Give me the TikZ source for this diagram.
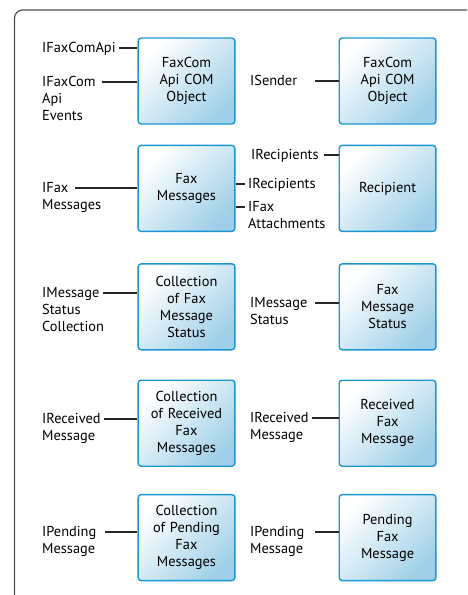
\documentclass[tikz,border=0pt]{standalone}
\usepackage{fontspec}
\setmainfont{PT Sans}
\usetikzlibrary{positioning}

\definecolor{boxblue}{RGB}{27,150,212}
\definecolor{boxfill}{RGB}{160,208,232}
\definecolor{framegray}{RGB}{80,80,80}

\begin{document}
\begin{tikzpicture}[x=1pt, y=-1pt,
        obj/.style={rectangle, rounded corners=3pt, draw=boxblue, line width=1.4pt, left color=white, middle color=boxfill!25!white, right color=boxfill, shading angle=45, minimum width=96pt, minimum height=86pt, text width=90pt, align=center, font=\fontsize{14.4}{17}\selectfont},
        iface/.style={anchor=north west, inner sep=0pt, align=left, font=\fontsize{14.4}{17}\selectfont},
        wire/.style={line width=1.3pt, black!85}]

        \useasboundingbox (0,0) rectangle (467,595);
        \draw[framegray, line width=1.2pt, rounded corners=8pt] (467,10) -- (14.5,10) -- (14.5,595);

        % objects, two columns
        \node[obj] (faxcom) at (186.5,81) {FaxCom\\Api COM\\Object};
        \node[obj, right=103pt of faxcom] (sender) {FaxCom\\Api COM\\Object};
        \node[obj, below=20pt of faxcom] (faxmsgs) {Fax\\Messages};
        \node[obj, right=103pt of faxmsgs] (recip) {Recipient};
        \node[obj, below=31pt of faxmsgs] (statcoll) {Collection\\of Fax\\Message\\Status};
        \node[obj, right=103pt of statcoll] (status) {Fax\\Message\\Status};
        \node[obj, below=29pt of statcoll] (recvcoll) {Collection\\of Received\\Fax\\Messages};
        \node[obj, right=103pt of recvcoll] (recv) {Received\\Fax\\Message};
        \node[obj, below=27pt of recvcoll] (pendcoll) {Collection\\of Pending\\Fax\\Messages};
        \node[obj, right=103pt of pendcoll] (pend) {Pending\\Fax\\Message};

        % interfaces
        \node[iface] (lApi) at (42,42.5) {IFaxComApi};
        \node[iface] (lEvents) at (42,76.5) {IFaxCom\\Api\\Events};
        \node[iface] (lSender) at (250,75.5) {ISender};
        \node[iface] (lFaxMsgs) at (42,182) {IFax\\Messages};
        \node[iface] (lRecip) at (251,149.5) {IRecipients};
        \node[iface] (lRecips) at (248,178.5) {IRecipients};
        \node[iface] (lAttach) at (248,201.5) {IFax\\Attachments};
        \node[iface] (lStatColl) at (42,287.5) {IMessage\\Status\\Collection};
        \node[iface] (lStatus) at (250,297.5) {IMessage\\Status};
        \node[iface] (lRecvColl) at (42,413) {IReceived\\Message};
        \node[iface] (lRecv) at (250,412.5) {IReceived\\Message};
        \node[iface] (lPendColl) at (42,526.5) {IPending\\Message};
        \node[iface] (lPend) at (250,526.5) {IPending\\Message};

        % wire ends
        \coordinate (wApi) at (119,48);
        \coordinate (wEvents) at (102,82);
        \coordinate (wSender) at (315,81);
        \coordinate (wFaxMsgs) at (75,188);
        \coordinate (wRecip) at (324,155);
        \coordinate (wRecips) at (245,184);
        \coordinate (wAttach) at (245,207);
        \coordinate (wStatColl) at (103,293);
        \coordinate (wStatus) at (315,303);
        \coordinate (wRecvColl) at (104,419);
        \coordinate (wRecv) at (312,418);
        \coordinate (wPendColl) at (105,532);
        \coordinate (wPend) at (315,532);

        \draw[wire] (wApi) -- (wApi -| faxcom.west);
        \draw[wire] (wEvents) -- (wEvents -| faxcom.west);
        \draw[wire] (wSender) -- (wSender -| sender.west);
        \draw[wire] (wFaxMsgs) -- (wFaxMsgs -| faxmsgs.west);
        \draw[wire] (wRecip) -- (wRecip -| recip.west);
        \draw[wire] (wRecips -| faxmsgs.east) -- (wRecips);
        \draw[wire] (wAttach -| faxmsgs.east) -- (wAttach);
        \draw[wire] (wStatColl) -- (wStatColl -| statcoll.west);
        \draw[wire] (wStatus) -- (wStatus -| status.west);
        \draw[wire] (wRecvColl) -- (wRecvColl -| recvcoll.west);
        \draw[wire] (wRecv) -- (wRecv -| recv.west);
        \draw[wire] (wPendColl) -- (wPendColl -| pendcoll.west);
        \draw[wire] (wPend) -- (wPend -| pend.west);
    \end{tikzpicture}
\end{document}
